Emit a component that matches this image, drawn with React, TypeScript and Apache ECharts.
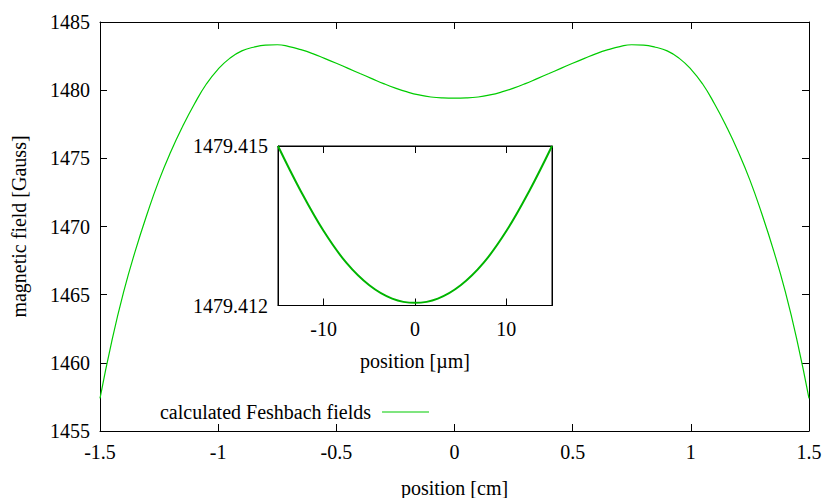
import React, { useEffect, useRef } from "react";
import * as echarts from "echarts";

// Main curve: position [cm] and field [Gauss]
const mainX = [
  -1.5, -1.45, -1.4, -1.35, -1.3, -1.25, -1.2, -1.15, -1.1, -1.05, -1.0, -0.95, -0.9, -0.85, -0.8, -0.75,
  -0.7, -0.65, -0.6, -0.55, -0.5, -0.45, -0.4, -0.35, -0.3, -0.25, -0.2, -0.15, -0.1, -0.05, 0,
  0.05, 0.1, 0.15, 0.2, 0.25, 0.3, 0.35, 0.4, 0.45, 0.5, 0.55, 0.6, 0.65, 0.7, 0.75,
  0.8, 0.85, 0.9, 0.95, 1.0, 1.05, 1.1, 1.15, 1.2, 1.25, 1.3, 1.35, 1.4, 1.45, 1.5,
];
const mainY = [
  1457.4, 1461.6, 1465.2, 1468.25, 1470.95, 1473.4, 1475.5, 1477.35, 1479.0, 1480.45, 1481.55, 1482.35, 1482.88, 1483.15, 1483.3, 1483.33,
  1483.2, 1482.97, 1482.68, 1482.33, 1481.97, 1481.6, 1481.22, 1480.85, 1480.48, 1480.15, 1479.87, 1479.65, 1479.5, 1479.43, 1479.412,
  1479.43, 1479.5, 1479.65, 1479.87, 1480.15, 1480.48, 1480.85, 1481.22, 1481.6, 1481.97, 1482.33, 1482.68, 1482.97, 1483.2, 1483.33,
  1483.3, 1483.15, 1482.88, 1482.35, 1481.55, 1480.45, 1479.0, 1477.35, 1475.5, 1473.4, 1470.95, 1468.25, 1465.2, 1461.6, 1457.4,
];

// Inset curve: position [µm] and field [Gauss]
const insetX = [-15, -12.5, -10, -7.5, -5, -2.5, 0, 2.5, 5, 7.5, 10, 12.5, 15];
const insetY = [
  1479.415, 1479.41415, 1479.4134, 1479.4128, 1479.41238, 1479.41213, 1479.41205,
  1479.41213, 1479.41238, 1479.4128, 1479.4134, 1479.41415, 1479.415,
];

const mainXTicks = [-1.5, -1, -0.5, 0, 0.5, 1, 1.5];
const mainYTicks = [1455, 1460, 1465, 1470, 1475, 1480, 1485];
const insetXTicks = [-10, 0, 10];
const insetYTicks = [1479.412, 1479.415];

const seriesName = "calculated Feshbach fields";

const FONT = "'Liberation Serif', 'DejaVu Serif', serif";
const FS = 20;

export default function App() {
  const ref = useRef<HTMLDivElement>(null);
  useEffect(() => {
    if (!ref.current) return;
    const chart = echarts.init(ref.current, null, { renderer: "svg" });
    const axisLine = { show: true, onZero: false, lineStyle: { color: "#000", width: 1 } };
    const tick = { show: true, inside: true, length: 7, lineStyle: { color: "#000", width: 1 } };
    const label = { color: "#000", fontFamily: FONT, fontSize: FS };
    const nameStyle = { color: "#000", fontFamily: FONT, fontSize: FS };
    const option: any = {
      animation: false,
      backgroundColor: "#fff",
      textStyle: { fontFamily: FONT },
      grid: [
        { left: 100, top: 22, width: 709, height: 409, show: false, containLabel: false, outerBoundsMode: "none" },
        {
          left: 278, top: 146, width: 274, height: 159.5, show: true, borderColor: "#000", borderWidth: 1,
          backgroundColor: "#fff", containLabel: false, outerBoundsMode: "none",
        },
      ],
      legend: {
        data: [seriesName],
        align: "right",
        left: 155,
        top: 397,
        icon: "rect",
        itemWidth: 47,
        itemHeight: 1.2,
        textStyle: { color: "#000", fontFamily: FONT, fontSize: FS, padding: [0, 6, 0, 0] },
      },
      xAxis: [
        {
          gridIndex: 0, type: "value", min: -1.5, max: 1.5, interval: 0.5, position: "bottom",
          axisLine, axisTick: tick, splitLine: { show: false },
          axisLabel: { ...label, margin: 11, customValues: mainXTicks, formatter: (v: number) => String(v) },
          name: "position [cm]", nameLocation: "middle", nameGap: 47, nameTextStyle: nameStyle,
        },
        {
          gridIndex: 0, type: "value", min: -1.5, max: 1.5, interval: 0.5, position: "top",
          axisLine, axisTick: tick, splitLine: { show: false }, axisLabel: { show: false },
        },
        {
          gridIndex: 1, type: "value", min: -15, max: 15, position: "bottom",
          axisLine, axisTick: { ...tick, customValues: insetXTicks }, splitLine: { show: false },
          axisLabel: { ...label, margin: 13, customValues: insetXTicks, formatter: (v: number) => String(v) },
          name: "position [µm]", nameLocation: "middle", nameGap: 45, nameTextStyle: nameStyle,
        },
        {
          gridIndex: 1, type: "value", min: -15, max: 15, position: "top",
          axisLine, axisTick: { ...tick, customValues: insetXTicks },
          splitLine: { show: false }, axisLabel: { show: false },
        },
      ],
      yAxis: [
        {
          gridIndex: 0, type: "value", min: 1455, max: 1485, interval: 5, position: "left",
          axisLine, axisTick: tick, splitLine: { show: false },
          axisLabel: { ...label, margin: 10, customValues: mainYTicks, formatter: (v: number) => String(v) },
          name: "magnetic field [Gauss]", nameLocation: "middle", nameGap: 71, nameRotate: 90, nameTextStyle: nameStyle,
        },
        {
          gridIndex: 0, type: "value", min: 1455, max: 1485, interval: 5, position: "right",
          axisLine, axisTick: tick, splitLine: { show: false }, axisLabel: { show: false },
        },
        {
          gridIndex: 1, type: "value", min: 1479.412, max: 1479.415, position: "left",
          axisLine, axisTick: { show: false }, splitLine: { show: false },
          axisLabel: { ...label, margin: 10, customValues: insetYTicks, formatter: (v: number) => v.toFixed(3) },
        },
        {
          gridIndex: 1, type: "value", min: 1479.412, max: 1479.415, position: "right",
          axisLine, axisTick: { show: false }, splitLine: { show: false }, axisLabel: { show: false },
        },
      ],
      series: [
        {
          name: seriesName, type: "line", xAxisIndex: 0, yAxisIndex: 0,
          data: mainX.map((x, i) => [x, mainY[i]]),
          smooth: 0.5, showSymbol: false, symbol: "none",
          lineStyle: { color: "#00cc00", width: 1.2 }, itemStyle: { color: "#00cc00" },
        },
        {
          name: "inset", type: "line", xAxisIndex: 2, yAxisIndex: 2,
          data: insetX.map((x, i) => [x, insetY[i]]),
          smooth: 0.4, showSymbol: false, symbol: "none",
          lineStyle: { color: "#00b400", width: 2 }, itemStyle: { color: "#00b400" },
        },
      ],
    };
    chart.setOption(option);
    return () => chart.dispose();
  }, []);
  return (
    <div
      ref={ref}
      style={{ position: "fixed", left: 0, top: 0, width: 826, height: 498, background: "#fff" }}
    />
  );
}
